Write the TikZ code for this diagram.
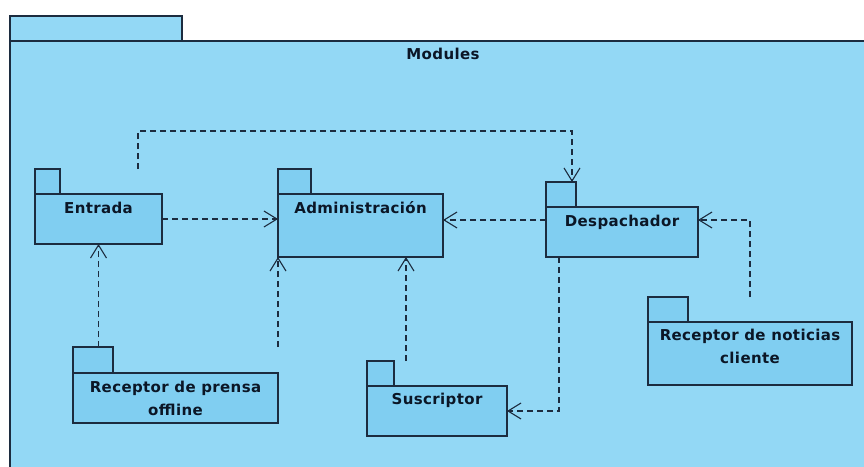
\documentclass[tikz,border=0pt]{standalone}
\usepackage{fontspec}
\setmainfont[LetterSpace=2.5]{DejaVu Sans}
\usetikzlibrary{arrows.meta,calc}
\definecolor{outerfill}{HTML}{93D8F5}
\definecolor{pkgfill}{HTML}{80CEF1}
\definecolor{edge}{HTML}{1C2C3F}
\definecolor{ink}{HTML}{0B1626}
\begin{document}
\begin{tikzpicture}[x=1pt,y=-1pt,
  pkg/.style={rectangle, draw=edge, fill=pkgfill, line width=1.2pt,
    inner sep=0pt, outer sep=0pt, anchor=north west},
  lbl/.style={anchor=base, inner sep=0pt, text=ink, align=center,
    font=\fontsize{15}{23.5}\selectfont\bfseries},
  dep/.style={draw=edge, line width=1.1pt, dash pattern=on 6pt off 4pt,
    -{Straight Barb[length=13pt,width=16pt,line width=1.1pt]}}]
\useasboundingbox (0,0) rectangle (864,466);
\fill[white] (0,0) rectangle (864,466);

% enclosing package "Modules"
\node[pkg, fill=outerfill, minimum width=172pt, minimum height=25pt] (modtab) at (10,16) {};
\fill[outerfill] (10,41) rectangle (870,470);
\draw[edge, line width=1.3pt] (10,470) -- (10,41) -- (870,41);
\node[lbl] (modules) at (443,59) {Modules};

% packages: tab + body; label baseline sits below the body top
\node[pkg, minimum width=25pt, minimum height=25pt] (etab) at (35,169) {};
\node[pkg, minimum width=127pt, minimum height=50pt] (entrada) at (35,194) {};
\node[lbl] (l-entrada) at ([yshift=-19pt]entrada.north) {Entrada};

\node[pkg, minimum width=33pt, minimum height=25pt] (atab) at (278,169) {};
\node[pkg, minimum width=165pt, minimum height=63pt] (admin) at (278,194) {};
\node[lbl] (l-admin) at ([yshift=-19pt]admin.north) {Administración};

\node[pkg, minimum width=30pt, minimum height=25pt] (dtab) at (546,182) {};
\node[pkg, minimum width=152pt, minimum height=50pt] (desp) at (546,207) {};
\node[lbl] (l-desp) at ([yshift=-19pt]desp.north) {Despachador};

% two-line labels: base anchor is the last line
\node[pkg, minimum width=40pt, minimum height=25pt] (ntab) at (648,297) {};
\node[pkg, minimum width=204pt, minimum height=63pt] (noticias) at (648,322) {};
\node[lbl] (l-noticias) at ([yshift=-41.5pt]noticias.north) {Receptor de noticias\\cliente};

\node[pkg, minimum width=40pt, minimum height=26pt] (ptab) at (73,347) {};
\node[pkg, minimum width=205pt, minimum height=50pt] (prensa) at (73,373) {};
\node[lbl] (l-prensa) at ([yshift=-42.5pt]prensa.north) {Receptor de prensa\\offline};

\node[pkg, minimum width=27pt, minimum height=25pt] (stab) at (367,361) {};
\node[pkg, minimum width=140pt, minimum height=50pt] (susc) at (367,386) {};
\node[lbl] (l-susc) at ([yshift=-18pt]susc.north) {Suscriptor};

% dependencies
\draw[dep] (entrada.east) -- (entrada.east -| admin.west);
\draw[dep] ([yshift=12pt]desp.west) -- ([yshift=12pt]desp.west -| admin.east);
\draw[dep] (noticias.north |- ntab.north) |- ([yshift=12pt]desp.east);
\draw[dep] (entrada.south |- ptab.north) -- (entrada.south);
\draw[dep] (admin.south west |- ptab.north) -- (admin.south west);
\draw[dep] ([xshift=-31pt]susc.north |- stab.north) -- ([xshift=-31pt]susc.north |- admin.south);
\draw[dep] ([xshift=13pt]desp.south west) |- (susc.east);
\draw[dep] ([xshift=103pt]entrada.north west |- etab.north) -- ++(0,-38)
  -| ([xshift=26pt]dtab.north west);
\end{tikzpicture}
\end{document}
